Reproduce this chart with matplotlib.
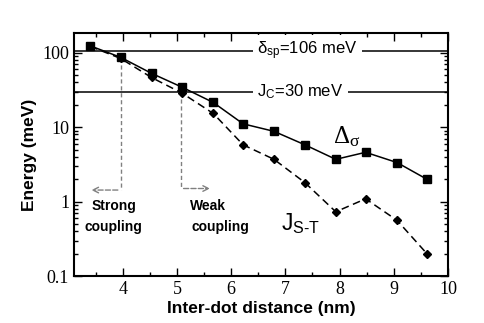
import matplotlib
matplotlib.use("Agg")
import matplotlib.pyplot as plt
from matplotlib import font_manager
from matplotlib.ticker import FixedLocator, LogLocator, NullFormatter

# pick a Times-like serif for tick labels from what is installed
installed = {f.name for f in font_manager.fontManager.ttflist}
serif_font = next((n for n in ["Liberation Serif", "Times New Roman", "Nimbus Roman",
                               "DejaVu Serif", "Noto Serif"] if n in installed), "serif")
SANS = "Liberation Sans" if "Liberation Sans" in installed else "DejaVu Sans"

plt.rcParams["font.family"] = serif_font
plt.rcParams["mathtext.fontset"] = "custom"
plt.rcParams["mathtext.rm"] = SANS
plt.rcParams["mathtext.it"] = SANS + ":italic"

# data
distance = [3.40, 3.96, 4.53, 5.09, 5.67, 6.22, 6.79, 7.36, 7.93, 8.48, 9.06, 9.61]
delta_sigma = [124, 87, 53, 34.6, 21.5, 11.1, 8.8, 5.8, 3.7, 4.6, 3.35, 2.0]
j_st = [122, 84, 46.6, 28.8, 15.3, 5.8, 3.7, 1.8, 0.73, 1.09, 0.56, 0.20]

x_ticks = [4, 5, 6, 7, 8, 9, 10]
y_ticks = [0.1, 1, 10, 100]
y_tick_labels = ["0.1", "1", "10", "100"]

delta_sp = 106
j_c = 30
strong_x = 3.96
weak_x = 5.07

fig = plt.figure(figsize=(4.85, 3.23), dpi=100)
ax = fig.add_axes([0.1526, 0.1455, 0.7711, 0.7525])

ax.set_yscale("log")
ax.set_xlim(3.1, 10)
ax.set_ylim(0.1, 185)

# reference lines with inline labels
ax.axhline(delta_sp, color="black", lw=1.1, zorder=1)
ax.axhline(j_c, color="black", lw=1.1, zorder=1)
box = dict(facecolor="white", edgecolor="none", pad=3)
ax.text(7.41, delta_sp, r"$\mathregular{\delta_{sp}}$=106 meV", fontsize=12, family=SANS,
        va="center", ha="center", bbox=box, zorder=2)
ax.text(7.28, j_c, r"$\mathregular{J_C}$=30 meV", fontsize=12, family=SANS,
        va="center", ha="center", bbox=box, zorder=2)

# series
ax.plot(distance, delta_sigma, "-", color="black", lw=1.1, marker="s", ms=6, zorder=3)
ax.plot(distance, j_st, "--", color="black", lw=1.1, marker="D", ms=4.5, zorder=3,
        dashes=(5, 3))

# coupling regime markers
gray = "#808080"
ax.plot([strong_x, strong_x], [85, 1.43], ls="--", color=gray, lw=1, dashes=(3, 2))
ax.annotate("", xy=(3.37, 1.43), xytext=(strong_x, 1.43),
            arrowprops=dict(arrowstyle="->", color=gray, lw=1, ls="--"))
ax.plot([weak_x, weak_x], [30, 1.5], ls="--", color=gray, lw=1, dashes=(3, 2))
ax.annotate("", xy=(5.66, 1.5), xytext=(weak_x, 1.5),
            arrowprops=dict(arrowstyle="->", color=gray, lw=1, ls="--"))

lbl = dict(fontsize=10, fontweight="bold", va="center", family=SANS)
ax.text(3.83, 0.86, "Strong", ha="center", **lbl)
ax.text(3.83, 0.46, "coupling", ha="center", **lbl)
ax.text(5.24, 0.86, "Weak", ha="left", **lbl)
ax.text(5.27, 0.46, "coupling", ha="left", **lbl)

# curve labels
ax.text(7.87, 7.5, r"$\mathregular{\Delta_{\sigma}}$", fontsize=18, ha="left", va="center",
        math_fontfamily="dejavuserif")
ax.text(6.91, 0.51, r"$\mathregular{J_{S\text{-}T}}$", fontsize=16.5, ha="left", va="center",
        family=SANS)

# axes styling
ax.set_xticks(x_ticks)
ax.set_xticklabels([str(v) for v in x_ticks], family=serif_font)
ax.set_xticks([v + 0.5 for v in [3] + x_ticks[:-1]], minor=True)
ax.yaxis.set_major_locator(FixedLocator(y_ticks))
ax.set_yticklabels(y_tick_labels, family=serif_font)
ax.yaxis.set_minor_locator(LogLocator(base=10, subs=range(2, 10)))
ax.yaxis.set_minor_formatter(NullFormatter())
ax.tick_params(which="both", direction="in", top=True, right=True, width=1)
ax.tick_params(which="major", length=6, labelsize=13)
ax.tick_params(which="minor", length=3)
for sp in ax.spines.values():
    sp.set_linewidth(1.5)

ax.set_xlabel("Inter-dot distance (nm)", fontsize=12.5, fontweight="bold", family=SANS,
              labelpad=2)
ax.set_ylabel("Energy (meV)", fontsize=12.5, fontweight="bold", family=SANS, labelpad=4)

fig.savefig("out.png", dpi=100)
